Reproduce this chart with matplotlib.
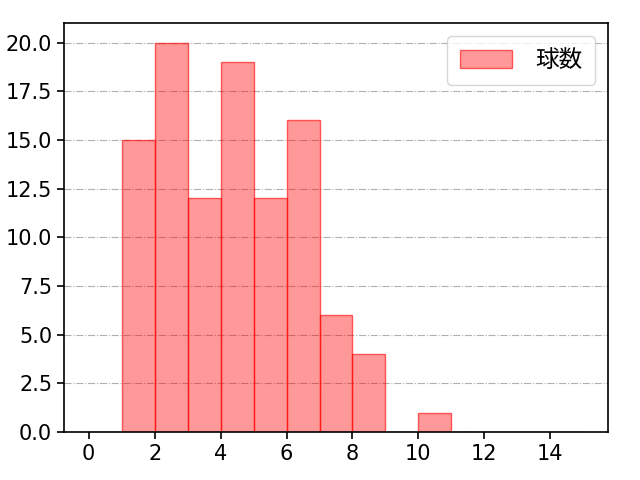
import matplotlib
matplotlib.use("Agg")
import matplotlib.pyplot as plt
import numpy as np

plt.rcParams['font.family'] = ['DejaVu Sans', 'Noto Sans CJK JP']

bin_edges = list(range(0, 16))
counts = [0, 15, 20, 12, 19, 12, 16, 6, 4, 0, 1, 0, 0, 0, 0]
label = "球数"

fig = plt.figure(figsize=(6.4, 4.8), dpi=100)
ax = fig.add_axes([0.1, 0.1, 0.85, 0.852])
ax.bar(bin_edges[:-1], counts, width=np.diff(bin_edges), align='edge',
       color=(1, 0, 0, 0.4), edgecolor=(1, 0, 0, 0.6), linewidth=1, label=label)
ax.set_xlim(-0.75, 15.75)
ax.set_ylim(0, 21)
ax.set_xticks(range(0, 15, 2))
ax.set_yticks(np.arange(0, 20.1, 2.5))
ax.yaxis.grid(True, linestyle='-.', color='#b0b0b0', linewidth=0.8)
ax.set_axisbelow(True)
for s in ax.spines.values():
    s.set_linewidth(1.2)
ax.tick_params(labelsize=15, length=5, width=1.2)
ax.legend(loc='upper right', handlelength=2.2, handletextpad=0.95,
          borderpad=0.55, borderaxespad=0.55, handleheight=0.8,
          prop={'family': ['Noto Sans CJK JP', 'DejaVu Sans'], 'size': 17})
fig.savefig("out.png", dpi=100)
